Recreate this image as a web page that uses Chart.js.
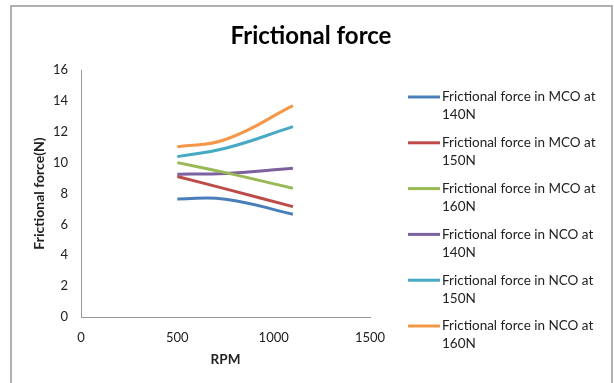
<!DOCTYPE html>
<html>
<head>
<meta charset="utf-8">
<script src="https://cdn.jsdelivr.net/npm/chart.js@4.4.1/dist/chart.umd.min.js"></script>
<style>
  body { margin: 0; background: #fff; }
  #wrap { position: relative; width: 614px; height: 383px; }
  #frame {
    position: absolute; left: 10px; top: 5px; width: 599px; height: 378px;
    border-left: 2px solid #b0b0b0; border-top: 2px solid #b0b0b0; border-right: 2px solid #b0b0b0;
    pointer-events: none;
  }
</style>
</head>
<body>
<div id="wrap">
  <canvas id="frictionChart" width="614" height="383"></canvas>
  <div id="frame"></div>
</div>
<script>
// RPM values (x) and frictional force readings (N)
const rpm = [500, 750, 1100];
const mco140 = [7.65, 7.63, 6.66];
const mco150 = [9.1, 8.3, 7.15];
const mco160 = [10.0, 9.35, 8.34];
const nco140 = [9.25, 9.3, 9.64];
const nco150 = [10.39, 10.93, 12.33];
const nco160 = [11.03, 11.5, 13.69];

const seriesNames = [
  "Frictional force in MCO at 140N",
  "Frictional force in MCO at 150N",
  "Frictional force in MCO at 160N",
  "Frictional force in NCO at 140N",
  "Frictional force in NCO at 150N",
  "Frictional force in NCO at 160N"
];
const seriesValues = [mco140, mco150, mco160, nco140, nco150, nco160];
const colors = ["#4A7EBB", "#BE4B48", "#98B954", "#7D60A0", "#46AAC5", "#F79646"];

const chartTitle = "Frictional force";
const FONT = "Lato, 'Open Sans', sans-serif";

function toPoints(values) {
  return rpm.map((r, i) => ({ x: r, y: values[i] }));
}

// title centred on the whole picture + legend at the right with two-line labels
const sideLegend = {
  id: "sideLegend",
  afterDraw(chart) {
    const ctx = chart.ctx;
    ctx.save();
    ctx.fillStyle = "#000";
    ctx.textAlign = "center";
    ctx.textBaseline = "middle";
    ctx.font = "bold 24px " + FONT;
    ctx.fillText(chartTitle, 311, 36);

    ctx.textAlign = "left";
    ctx.font = "13.5px " + FONT;
    ctx.fillStyle = "#222";
    chart.data.datasets.forEach((ds, i) => {
      const y = 97 + i * 45.8;
      ctx.strokeStyle = ds.borderColor;
      ctx.lineWidth = 3;
      ctx.beginPath();
      ctx.moveTo(408, y);
      ctx.lineTo(440, y);
      ctx.stroke();
      const words = ds.label.split(" ");
      const last = words.pop();
      ctx.fillText(words.join(" "), 442, y);
      ctx.fillText(last, 442, y + 18);
    });
    ctx.restore();
  }
};

const chart = new Chart(document.getElementById("frictionChart"), {
  type: "scatter",
  data: {
    datasets: seriesValues.map((vals, i) => ({
      label: seriesNames[i],
      data: toPoints(vals),
      showLine: true,
      borderColor: colors[i],
      backgroundColor: colors[i],
      borderWidth: 3,
      pointRadius: 0,
      tension: 0.45,
    })),
  },
  options: {
    responsive: false,
    animation: false,
    layout: { padding: { left: 0, right: 244, top: 70, bottom: 0 } },
    plugins: {
      legend: { display: false },
      tooltip: { enabled: false },
      title: { display: false },
    },
    scales: {
      x: {
        type: "linear",
        min: 0,
        max: 1500,
        ticks: {
          stepSize: 500,
          color: "#222",
          padding: 13,
          font: { family: FONT, size: 13 },
          callback: (v) => String(v),
        },
        grid: { display: false, drawTicks: false },
        border: { display: true, color: "#999", width: 1 },
        title: {
          display: true,
          text: "RPM",
          color: "#222",
          font: { family: FONT, size: 13.5, weight: "bold" },
          padding: { top: 0, bottom: 15 },
        },
        afterFit(scale) { scale.height = 66; },
      },
      y: {
        min: 0,
        max: 16,
        ticks: { stepSize: 2, color: "#222", padding: 13, font: { family: FONT, size: 13 } },
        grid: { display: false, drawTicks: false },
        border: { display: true, color: "#999", width: 1 },
        title: {
          display: true,
          text: "Frictional force(N)",
          color: "#222",
          font: { family: FONT, size: 14, weight: "bold" },
          padding: { top: 31, bottom: 0 },
        },
        afterFit(scale) { scale.width = 81; },
      },
    },
  },
  plugins: [sideLegend],
});
</script>
</body>
</html>
